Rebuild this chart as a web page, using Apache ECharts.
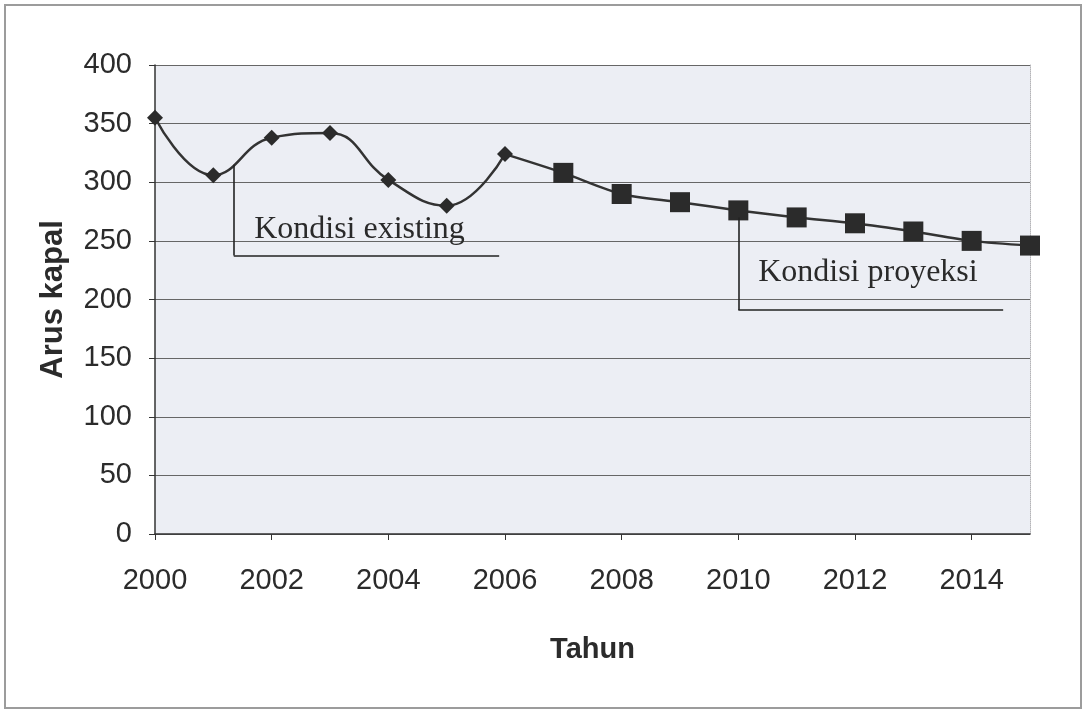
<!DOCTYPE html>
<html>
<head>
<meta charset="utf-8">
<script src="https://cdn.jsdelivr.net/npm/echarts@6/dist/echarts.min.js"></script>
<style>
  html, body { margin: 0; padding: 0; background: #ffffff; }
  #chart { width: 1084px; height: 711px; }
</style>
</head>
<body>
<div id="chart"></div>
<script>
// Ship traffic per year: observed (existing) and projected values
const existingYears = [2000, 2001, 2002, 2003, 2004, 2005, 2006];
const existingValues = [355, 306, 338, 342, 302, 280, 324];
const proyeksiYears = [2006, 2007, 2008, 2009, 2010, 2011, 2012, 2013, 2014, 2015];
const proyeksiValues = [324, 308, 290, 283, 276, 270, 265, 258, 250, 246];

// Axis ranges
const xMin = 2000, xMax = 2015, xStep = 2;
const yMin = 0, yMax = 400, yStep = 50;

// Callout labels and their leader lines, in data units
const calloutExisting = { text: 'Kondisi existing', at: [2001.70, 246],
  path: [[2001.35, 315], [2001.35, 237.5], [2005.90, 237.5]] };
const calloutProyeksi = { text: 'Kondisi proyeksi', at: [2010.34, 209],
  path: [[2010.0, 270], [2010.0, 191], [2014.54, 191]] };

const tickFont = '"Liberation Sans", Arial, sans-serif';
const titleFont = '"Liberation Sans", Arial, sans-serif';
const serifFont = '"Liberation Serif", "Times New Roman", serif';
const ink = '#2b2b2b';

function pairs(xs, ys) { return xs.map((x, i) => [x, ys[i]]); }

function pathSegments(path) {
  const segs = [];
  for (let i = 0; i < path.length - 1; i++) {
    segs.push([{ coord: path[i] }, { coord: path[i + 1] }]);
  }
  return segs;
}

const chart = echarts.init(document.getElementById('chart'), null, { renderer: 'canvas' });

const proyeksiData = pairs(proyeksiYears, proyeksiValues).map((p, i) =>
  i === 0 ? { value: p, symbol: 'none' } : { value: p });

chart.setOption({
  animation: false,
  backgroundColor: '#ffffff',
  grid: {
    left: 155, right: 54, top: 65, bottom: 177,
    show: true, backgroundColor: '#eceef4', borderWidth: 0,
    outerBoundsMode: 'none'
  },
  xAxis: {
    type: 'value', min: xMin, max: xMax, interval: xStep,
    name: 'Tahun', nameLocation: 'middle', nameGap: 101,
    nameTextStyle: { fontFamily: titleFont, fontWeight: 'bold', fontSize: 29, color: ink },
    axisLine: { show: true, onZero: false, lineStyle: { color: '#333', width: 1.5 } },
    axisTick: { show: true, inside: false, length: 6, lineStyle: { color: '#333' } },
    axisLabel: { fontFamily: tickFont, fontSize: 29, color: ink, margin: 32,
      showMaxLabel: false, formatter: v => String(v) },
    splitLine: { show: false }
  },
  yAxis: [{
    type: 'value', min: yMin, max: yMax, interval: yStep,
    name: 'Arus kapal', nameLocation: 'middle', nameGap: 86, nameRotate: 90,
    nameTextStyle: { fontFamily: titleFont, fontWeight: 'bold', fontSize: 31, color: ink },
    axisLine: { show: true, lineStyle: { color: '#333', width: 1.5 } },
    axisTick: { show: true, inside: false, length: 6, lineStyle: { color: '#333' } },
    axisLabel: { fontFamily: tickFont, fontSize: 29, color: ink, margin: 23 },
    splitLine: { show: true, lineStyle: { color: '#666', width: 1.2 } }
  }, {
    type: 'value', min: yMin, max: yMax, position: 'right',
    axisLine: { show: true, lineStyle: { color: '#b4b4b8', width: 1, type: 'dotted' } },
    axisTick: { show: false }, axisLabel: { show: false }, splitLine: { show: false }
  }],
  series: [{
    name: 'Kondisi existing',
    type: 'line', smooth: 0.45,
    data: pairs(existingYears, existingValues),
    symbol: 'diamond', symbolSize: 16,
    itemStyle: { color: ink },
    lineStyle: { color: '#333', width: 2.5 },
    z: 3
  }, {
    name: 'Kondisi proyeksi',
    type: 'line', smooth: 0.3,
    data: proyeksiData,
    symbol: 'rect', symbolSize: 20,
    itemStyle: { color: ink },
    lineStyle: { color: '#333', width: 2.5 },
    z: 3,
    markLine: {
      silent: true, symbol: 'none', label: { show: false },
      lineStyle: { color: '#222', width: 1.6, type: 'solid' },
      data: pathSegments(calloutExisting.path).concat(pathSegments(calloutProyeksi.path))
    }
  }]
});

// Callout texts placed at their data positions, plus the outer frame
function calloutText(c) {
  const p = chart.convertToPixel({ gridIndex: 0 }, c.at);
  return {
    type: 'text', x: p[0], y: p[1], z: 10,
    style: { text: c.text, fontFamily: serifFont, fontSize: 32, fill: '#2a2a2a',
      textAlign: 'left', textVerticalAlign: 'bottom' }
  };
}

chart.setOption({
  graphic: [
    { type: 'rect', shape: { x: 5, y: 5, width: 1076, height: 703 },
      style: { fill: 'none', stroke: '#9c9c9c', lineWidth: 2 }, z: 0, silent: true },
    calloutText(calloutExisting),
    calloutText(calloutProyeksi)
  ]
});
</script>
</body>
</html>
